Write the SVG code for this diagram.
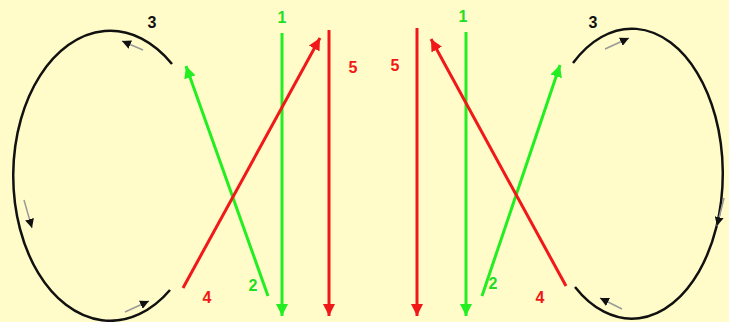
<svg xmlns="http://www.w3.org/2000/svg" width="729" height="322" viewBox="0 0 729 322">
<style>
.g{stroke:#22EE22;stroke-width:3;fill:none}
.r{stroke:#F01818;stroke-width:3;fill:none}
.k{stroke:#111;stroke-width:2.5;fill:none}
.s{stroke:#999;stroke-width:1.5;fill:none}
.t{font-family:"Liberation Sans",Arial,sans-serif;font-weight:bold;font-size:16px;text-anchor:middle}
.tg{fill:#22DD22}.tr{fill:#F01818}.tk{fill:#111}
</style>
<defs>
<marker id="ag" viewBox="0 0 10 10" refX="10" refY="5" markerWidth="4" markerHeight="4" orient="auto" markerUnits="strokeWidth"><path d="M0,0L10,5L0,10z" fill="#22EE22"/></marker>
<marker id="ar" viewBox="0 0 10 10" refX="10" refY="5" markerWidth="4" markerHeight="4" orient="auto" markerUnits="strokeWidth"><path d="M0,0L10,5L0,10z" fill="#F01818"/></marker>
<marker id="ak" viewBox="0 0 10 10" refX="10" refY="5" markerWidth="6" markerHeight="6" orient="auto" markerUnits="strokeWidth"><path d="M0,0L10,5L0,10z" fill="#111"/></marker>
</defs>
<rect width="729" height="322" fill="#FFFCC9"/>
<g id="left-loop">
<path class="k" d="M172,64 A97,145 0 1 0 170,290"/>
<line class="s" x1="143" y1="50" x2="122" y2="41" marker-end="url(#ak)"/>
<line class="s" x1="24" y1="200" x2="32" y2="228" marker-end="url(#ak)"/>
<line class="s" x1="125" y1="312" x2="149" y2="301" marker-end="url(#ak)"/>
<text class="t tk" x="152" y="28">3</text>
</g>
<g id="right-loop">
<path class="k" d="M573,63 A91,145 0 1 1 575,287"/>
<line class="s" x1="605" y1="49" x2="629" y2="38" marker-end="url(#ak)"/>
<line class="s" x1="724" y1="198" x2="717" y2="226" marker-end="url(#ak)"/>
<line class="s" x1="622" y1="309" x2="600" y2="298" marker-end="url(#ak)"/>
<text class="t tk" x="593" y="28">3</text>
</g>
<g id="connectors">
<line class="g" x1="282" y1="33" x2="282" y2="316" marker-end="url(#ag)"/>
<line class="r" x1="329" y1="30" x2="329" y2="316" marker-end="url(#ar)"/>
<line class="r" x1="417" y1="28" x2="417" y2="316" marker-end="url(#ar)"/>
<line class="g" x1="466" y1="32" x2="466" y2="316" marker-end="url(#ag)"/>
<line class="g" x1="268" y1="296" x2="186" y2="66" marker-end="url(#ag)"/>
<line class="r" x1="183" y1="288" x2="320" y2="38" marker-end="url(#ar)"/>
<line class="g" x1="482" y1="296" x2="560" y2="65" marker-end="url(#ag)"/>
<line class="r" x1="566" y1="286" x2="431" y2="39" marker-end="url(#ar)"/>
</g>
<g id="labels">
<text class="t tg" x="282" y="23">1</text>
<text class="t tg" x="463" y="22">1</text>
<text class="t tr" x="353" y="73">5</text>
<text class="t tr" x="395" y="71">5</text>
<text class="t tg" x="253" y="291">2</text>
<text class="t tg" x="493" y="289">2</text>
<text class="t tr" x="207" y="303">4</text>
<text class="t tr" x="540" y="303">4</text>
</g>
</svg>
